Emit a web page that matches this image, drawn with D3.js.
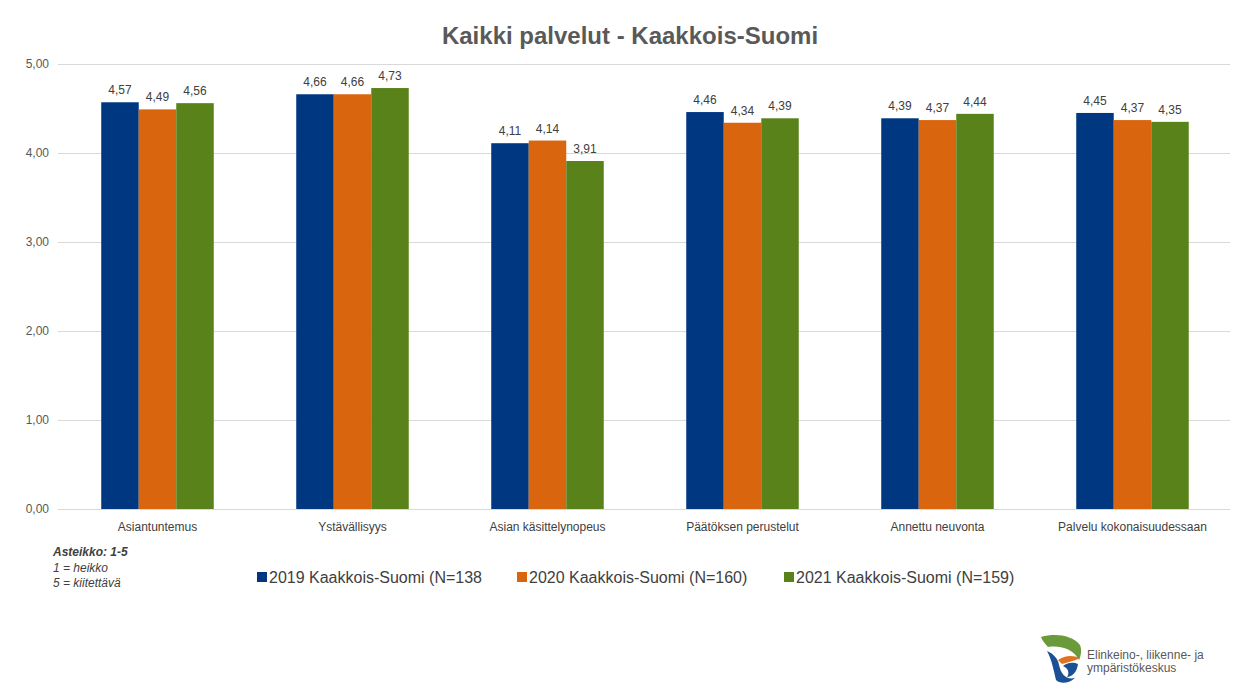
<!DOCTYPE html>
<html><head><meta charset="utf-8">
<script src="https://cdn.jsdelivr.net/npm/d3@7"></script>
<style>body{margin:0;background:#fff;}svg{display:block;font-family:"Liberation Sans",Arial,sans-serif;}</style>
</head><body>
<svg id="c" width="1245" height="691"></svg>
<script>
const categories = ["Asiantuntemus","Ystävällisyys","Asian käsittelynopeus","Päätöksen perustelut","Annettu neuvonta","Palvelu kokonaisuudessaan"];
const seriesNames = ["2019 Kaakkois-Suomi (N=138","2020 Kaakkois-Suomi (N=160)","2021 Kaakkois-Suomi (N=159)"];
const values2019 = [4.57,4.66,4.11,4.46,4.39,4.45];
const values2020 = [4.49,4.66,4.14,4.34,4.37,4.37];
const values2021 = [4.56,4.73,3.91,4.39,4.44,4.35];
const yTicks = [0,1,2,3,4,5];
const colors = ["#003781","#D9650F","#5A821A"];
const series = [values2019, values2020, values2021];

(function(){
const svg = d3.select("#c");
const pl = 60, pr = 1230, pt = 64, pb = 509;
const x = d3.scaleBand().domain(categories).range([pl,pr]).paddingInner(0.423).paddingOuter(0.2115);
const xs = d3.scaleBand().domain(d3.range(3)).range([0,x.bandwidth()]);
const y = d3.scaleLinear().domain([0,5]).range([pb,pt]);
const fmt = v => d3.format(".2f")(v).replace(".",",");

// title
svg.append("text").attr("x",630).attr("y",44).attr("text-anchor","middle")
  .attr("font-size",24).attr("font-weight","bold").attr("fill","#595959").text("Kaikki palvelut - Kaakkois-Suomi");

// grid
const yAxis = d3.axisLeft(y).tickValues(yTicks).tickFormat(fmt).tickSize(-(pr-pl+2)).tickPadding(9);
const ga = svg.append("g").attr("transform",`translate(${pl-2},0)`).call(yAxis);
ga.select(".domain").remove();
ga.selectAll(".tick line").attr("stroke","#d9d9d9").attr("stroke-width",1);
ga.selectAll(".tick text").attr("font-size",12).attr("fill","#595959").attr("font-family","Liberation Sans, Arial, sans-serif");

// bars
series.forEach((vals,si)=>{
  const g = svg.append("g");
  g.selectAll("rect").data(vals).enter().append("rect")
    .attr("x",(d,i)=>x(categories[i])+xs(si)).attr("width",xs.bandwidth())
    .attr("y",d=>y(d)).attr("height",d=>y(0)-y(d)).attr("fill",colors[si]);
  g.selectAll("text").data(vals).enter().append("text")
    .attr("x",(d,i)=>x(categories[i])+xs(si)+xs.bandwidth()/2).attr("y",d=>y(d)-8)
    .attr("text-anchor","middle").attr("font-size",12).attr("fill","#404040").text(fmt);
});

// x axis labels
const xAxis = d3.axisBottom(x).tickSize(0).tickPadding(13);
const gx = svg.append("g").attr("transform",`translate(0,${pb})`).call(xAxis);
gx.select(".domain").remove();
gx.selectAll(".tick text").attr("font-size",12).attr("fill","#404040").attr("font-family","Liberation Sans, Arial, sans-serif");

// scale note
const note = svg.append("g").attr("font-size",12).attr("fill","#404040").attr("font-style","italic");
note.append("text").attr("x",53).attr("y",556).attr("font-weight","bold").text("Asteikko: 1-5");
note.append("text").attr("x",53).attr("y",572).text("1 = heikko");
note.append("text").attr("x",53).attr("y",587).text("5 = kiitettävä");

// legend
const legX = [257,517,784];
const leg = svg.append("g");
seriesNames.forEach((n,i)=>{
  leg.append("rect").attr("x",legX[i]).attr("y",572).attr("width",10).attr("height",10).attr("fill",colors[i]);
  leg.append("text").attr("x",legX[i]+12).attr("y",583).attr("font-size",16).attr("fill","#404040").text(n);
});

// logo
const logo = svg.append("g");
logo.append("path").attr("d","M1041,637 C1055,633 1072,635 1080,645 C1082,650 1081,656 1079,660 C1074,650 1062,645 1048,647 C1045,644 1042,640 1041,637 Z").attr("fill","#6a9a3a");
logo.append("path").attr("d","M1047,651 C1052,660 1054,672 1056,680 C1060,684 1068,684 1075,678 C1066,680 1061,674 1059,665 C1058,659 1054,654 1047,651 Z").attr("fill","#1b4f96");
logo.append("path").attr("d","M1058,660 C1065,655 1073,655 1080,658 C1074,661 1068,662 1062,664 Z").attr("fill","#e0731d");
logo.append("path").attr("d","M1063,666 C1068,662 1074,662 1078,664 C1077,672 1072,677 1067,677 C1070,673 1068,668 1063,666 Z").attr("fill","#1b4f96");
const lt = logo.append("g").attr("font-size",12).attr("fill","#595959");
lt.append("text").attr("x",1087).attr("y",659).text("Elinkeino-, liikenne- ja");
lt.append("text").attr("x",1087).attr("y",672).text("ympäristökeskus");
})();
</script>
</body></html>
